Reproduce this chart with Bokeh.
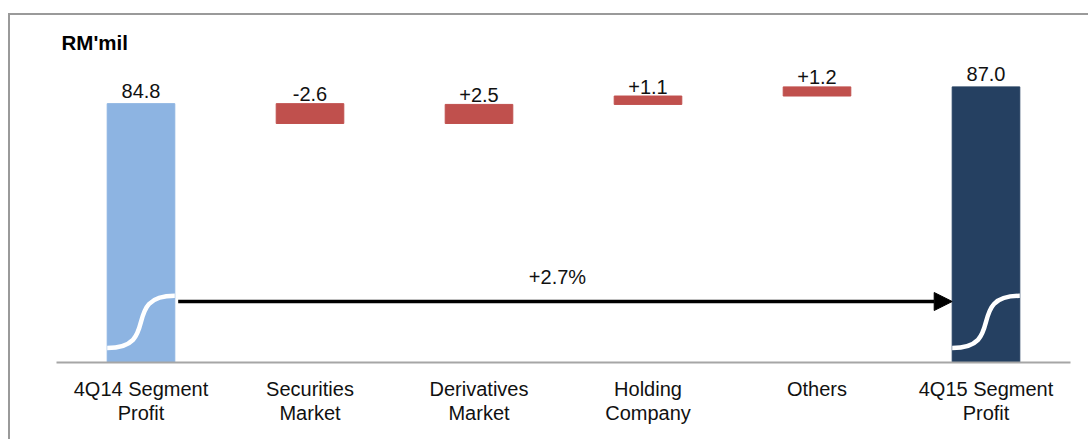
from bokeh.plotting import figure
from bokeh.models import Range1d, FactorRange, ColumnDataSource, Arrow, NormalHead
from bokeh.core.properties import value
from bokeh.embed import file_html
from bokeh.resources import INLINE

# ---------------- data ----------------
categories = ["4Q14 Segment\nProfit", "Securities\nMarket", "Derivatives\nMarket",
              "Holding\nCompany", "Others", "4Q15 Segment\nProfit"]
start_value = 84.8
changes = [-2.6, 2.5, 1.1, 1.2]
end_value = 87.0
change_pct_label = "+2.7%"
unit_label = "RM'mil"

# ---------------- styling / layout constants ----------------
BLUE = "#8DB4E2"
RED = "#C0504D"
NAVY = "#254061"
BAR_W = 0.4
Y_LO, Y_HI = 50.85, 90.46          # broken (not-to-scale) value axis
FONT = "Liberation Sans"
FS = "20px"

# ---------------- waterfall geometry from data ----------------
tops, bottoms, colors, labels, yoffs = [], [], [], [], []
tops.append(start_value); bottoms.append(Y_LO); colors.append(BLUE)
labels.append(f"{start_value:.1f}"); yoffs.append(-13)
run = start_value
for c in changes:
    new = run + c
    tops.append(max(run, new)); bottoms.append(min(run, new)); colors.append(RED)
    labels.append(f"{c:+.1f}"); yoffs.append(-9.5)
    run = new
tops.append(end_value); bottoms.append(Y_LO); colors.append(NAVY)
labels.append(f"{end_value:.1f}"); yoffs.append(-13)

src = ColumnDataSource(dict(x=categories, top=tops, bottom=bottoms, color=colors,
                            label=labels, yoff=yoffs))

p = figure(x_range=FactorRange(*categories), y_range=Range1d(Y_LO, Y_HI),
           width=1080, height=426, output_backend="svg", toolbar_location=None,
           y_axis_location=None, min_border_left=46, min_border_right=20,
           min_border_top=45, min_border_bottom=79)
p.styles = {"border-top": "2px solid #9a9a9a", "border-left": "2px solid #9a9a9a"}
p.margin = (13, 0, 0, 8)
p.outline_line_color = None
p.grid.visible = False
p.background_fill_color = "white"
p.border_fill_color = "white"

p.vbar(x="x", top="top", bottom="bottom", width=BAR_W, color="color", source=src)
p.text(x="x", y="top", text="label", y_offset="yoff", source=src,
       text_align="center", text_baseline="alphabetic",
       text_font=value(FONT), text_font_size=FS, text_color="#111111")

# axis-break marks (white S curves) on the two total bars
first_c, last_c = 0.5, len(categories) - 0.5
brk_lo, brk_hi = Y_LO + 1.9, Y_LO + 8.75
xs0 = [first_c - BAR_W / 2, last_c - BAR_W / 2]
xs1 = [first_c + BAR_W / 2, last_c + BAR_W / 2]
p.bezier(x0=xs0, y0=[brk_lo] * 2, x1=xs1, y1=[brk_hi] * 2,
         cx0=[a + BAR_W * 0.8 for a in xs0], cy0=[brk_lo] * 2,
         cx1=[b - BAR_W * 0.8 for b in xs1], cy1=[brk_hi] * 2,
         line_color="white", line_width=4.5)

# growth arrow
arrow_y = Y_LO + 8.0
p.add_layout(Arrow(x_start=first_c + BAR_W / 2 + 0.02, y_start=arrow_y,
                   x_end=last_c - BAR_W / 2, y_end=arrow_y,
                   line_color="black", line_width=3.5,
                   end=NormalHead(size=18, fill_color="black", line_color="black")))
p.text(x=[(first_c + last_c) / 2], y=[arrow_y], text=[change_pct_label],
       x_offset=-6, y_offset=-25, text_align="center", text_baseline="alphabetic",
       text_font=value(FONT), text_font_size=FS, text_color="#111111")

# title
p.title.text = unit_label
p.title.text_font = FONT
p.title.text_font_size = "20.5px"
p.title.text_font_style = "bold"
p.title.text_color = "#000000"
p.title.align = "left"
p.title.offset = 5
p.title.standoff = 13

# x axis
ax = p.xaxis[0]
ax.axis_line_color = "#a6a6a6"
ax.axis_line_width = 2
ax.major_tick_line_color = None
ax.minor_tick_line_color = None
ax.major_tick_in = 0
ax.major_tick_out = 0
ax.major_label_standoff = 15
ax.major_label_text_font = FONT
ax.major_label_text_font_size = FS
ax.major_label_text_color = "#111111"
ax.major_label_text_line_height = 1.1

open("out.html", "w").write(file_html(p, INLINE))
